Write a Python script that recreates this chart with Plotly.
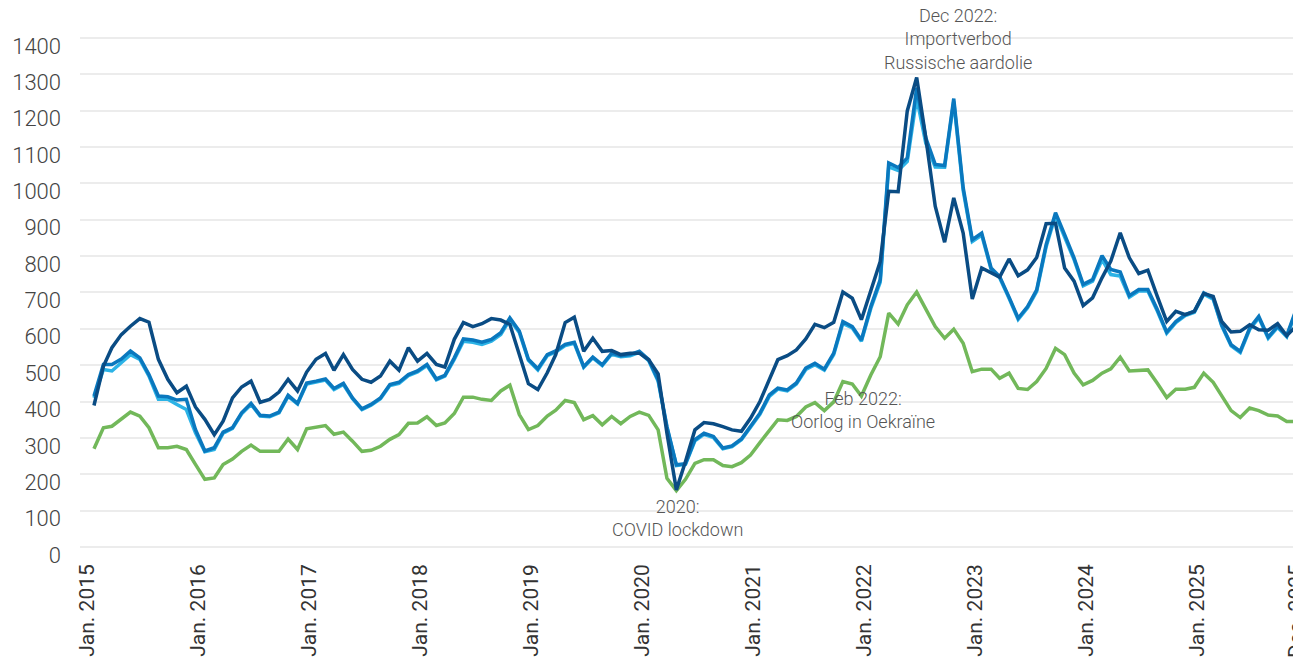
import pandas as pd
import plotly.graph_objects as go

months = pd.date_range("2015-01-01", "2025-12-01", freq="MS")

navy = [389, 497, 548, 584, 607, 628, 618, 516, 461, 424, 442, 385,
        351, 309, 346, 410, 440, 456, 398, 406, 426, 461, 429, 481,
        516, 532, 486, 529, 488, 461, 453, 470, 511, 486, 548, 511,
        532, 502, 495, 571, 617, 606, 614, 628, 624, 612, 529, 449,
        433, 479, 529, 617, 632, 538, 574, 538, 540, 529, 533, 533,
        515, 476, 313, 157, 235, 322, 342, 339, 331, 322, 318, 354,
        400, 460, 515, 526, 542, 572, 612, 603, 618, 701, 684, 625,
        707, 785, 978, 977, 1199, 1291, 1125, 937, 838, 960, 863, 682,
        767, 755, 742, 792, 746, 762, 796, 889, 890, 767, 731, 664,
        685, 740, 786, 864, 795, 752, 761, 689, 620, 648, 639, 648,
        697, 689, 620, 591, 593, 611, 597, 596, 614, 581, 607, 553]

medium = [415, 502, 502, 517, 539, 520, 474, 415, 413, 404, 406, 323,
          264, 273, 316, 328, 369, 395, 362, 360, 371, 417, 395, 451,
          456, 462, 436, 450, 410, 380, 392, 410, 447, 453, 474, 484,
          502, 462, 472, 520, 572, 569, 563, 571, 589, 630, 594, 516,
          490, 529, 539, 557, 563, 496, 522, 501, 533, 526, 529, 538,
          515, 460, 331, 226, 229, 295, 313, 304, 272, 278, 297, 331,
          368, 418, 437, 432, 451, 492, 505, 489, 533, 620, 606, 569,
          661, 735, 1056, 1043, 1070, 1263, 1125, 1052, 1049, 1233, 988, 845,
          863, 767, 744, 687, 629, 661, 707, 831, 919, 859, 795, 722,
          735, 801, 763, 756, 691, 708, 708, 653, 591, 620, 639, 648,
          699, 685, 611, 556, 538, 602, 634, 577, 607, 581, 653, 552]

light = [410, 488, 484, 506, 529, 516, 470, 406, 406, 392, 378, 314,
         262, 268, 313, 326, 366, 392, 360, 358, 369, 414, 393, 448,
         453, 459, 433, 447, 408, 378, 390, 408, 444, 450, 471, 481,
         499, 460, 470, 516, 566, 563, 557, 566, 584, 625, 590, 513,
         487, 526, 536, 554, 560, 494, 520, 499, 530, 523, 526, 535,
         512, 456, 328, 224, 227, 292, 310, 301, 270, 276, 295, 328,
         365, 414, 434, 429, 448, 488, 501, 486, 529, 615, 602, 566,
         656, 728, 1045, 1035, 1060, 1235, 1110, 1045, 1044, 1225, 980, 840,
         858, 763, 740, 684, 626, 658, 703, 825, 912, 852, 790, 718,
         731, 790, 749, 745, 687, 704, 704, 649, 588, 617, 636, 645,
         695, 681, 608, 553, 535, 598, 630, 574, 604, 578, 648, 549]

green = [270, 328, 332, 352, 371, 360, 328, 273, 273, 277, 268, 227,
         186, 190, 227, 242, 263, 280, 263, 263, 263, 297, 268, 325,
         330, 334, 310, 316, 291, 263, 266, 277, 296, 309, 340, 341,
         358, 334, 341, 367, 412, 412, 406, 403, 429, 445, 364, 323,
         334, 360, 376, 403, 397, 350, 361, 336, 359, 339, 359, 371,
         362, 322, 189, 155, 186, 230, 240, 240, 224, 221, 232, 253,
         287, 322, 350, 348, 359, 385, 397, 375, 399, 455, 448, 415,
         473, 523, 643, 613, 666, 701, 652, 606, 574, 599, 560, 482,
         489, 489, 464, 478, 436, 433, 455, 491, 546, 529, 478, 446,
         458, 478, 490, 522, 484, 485, 487, 450, 411, 434, 434, 439,
         478, 453, 414, 375, 356, 382, 375, 363, 360, 345, 345, 336]

tick_dates = ["2014-12-10", "2015-12-10", "2016-12-10", "2017-12-10", "2018-12-10",
              "2019-12-10", "2020-12-10", "2021-12-10", "2022-12-10", "2023-12-10",
              "2024-12-10", "2025-10-31"]
tick_text = ["Jan. 2015", "Jan. 2016", "Jan. 2017", "Jan. 2018", "Jan. 2019",
             "Jan. 2020", "Jan. 2021", "Jan. 2022", "Jan. 2023", "Jan. 2024",
             "Jan. 2025", "Dec. 2025"]
y_ticks = [0, 100, 200, 300, 400, 500, 600, 700, 800, 900, 1000, 1100, 1200, 1300, 1400]

notes = [
    ("2022-10-15", 1398, "Dec 2022:<br>Importverbod<br>Russische aardolie"),
    ("2021-12-05", 377, "Feb 2022:<br>Oorlog in Oekraïne"),
    ("2020-04-05", 79, "2020:<br>COVID lockdown"),
]

series = [
    ("Groen", green, "#72b85a"),
    ("Lichtblauw", light, "#2cb3e6"),
    ("Blauw", medium, "#0a78be"),
    ("Donkerblauw", navy, "#0a4c84"),
]

fig = go.Figure()
for name, vals, col in series:
    fig.add_trace(go.Scatter(x=months, y=vals, mode="lines", name=name,
                             line=dict(color=col, width=3.5)))

fig.update_xaxes(
    type="date",
    range=["2014-11-16", "2025-11-17"],
    tickmode="array",
    tickvals=tick_dates,
    ticktext=tick_text,
    tickangle=-90,
    tickfont=dict(family="Roboto", size=21, color="#333333"),
    showgrid=False, zeroline=False, showline=False, ticks="",
    ticklabelstandoff=12, ticklabeloverflow="allow",
    automargin=False,
)
fig.update_yaxes(
    range=[0, 1449],
    tickmode="array", tickvals=y_ticks,
    tickfont=dict(family="Roboto", size=22, color="#444444", weight=300),
    showgrid=True, gridcolor="#ececec", gridwidth=2,
    zeroline=True, zerolinecolor="#ececec", zerolinewidth=2,
    showline=False, ticks="",
    ticklabelstandoff=18, ticklabelshift=8,
    automargin=False,
)
for xd, yv, txt in notes:
    fig.add_annotation(x=xd, y=yv, xref="x", yref="y", text=txt, showarrow=False,
                       xanchor="center", yanchor="middle",
                       font=dict(family="Roboto", size=18, color="#555555", weight=300))

# page body adds an 8px offset, so the figure is sized to end at the window edge
fig.update_layout(
    width=1293, height=654,
    margin=dict(l=72, r=0, t=12, b=115, autoexpand=False),
    plot_bgcolor="white", paper_bgcolor="white",
    showlegend=False,
)
fig.write_html("out.html")
